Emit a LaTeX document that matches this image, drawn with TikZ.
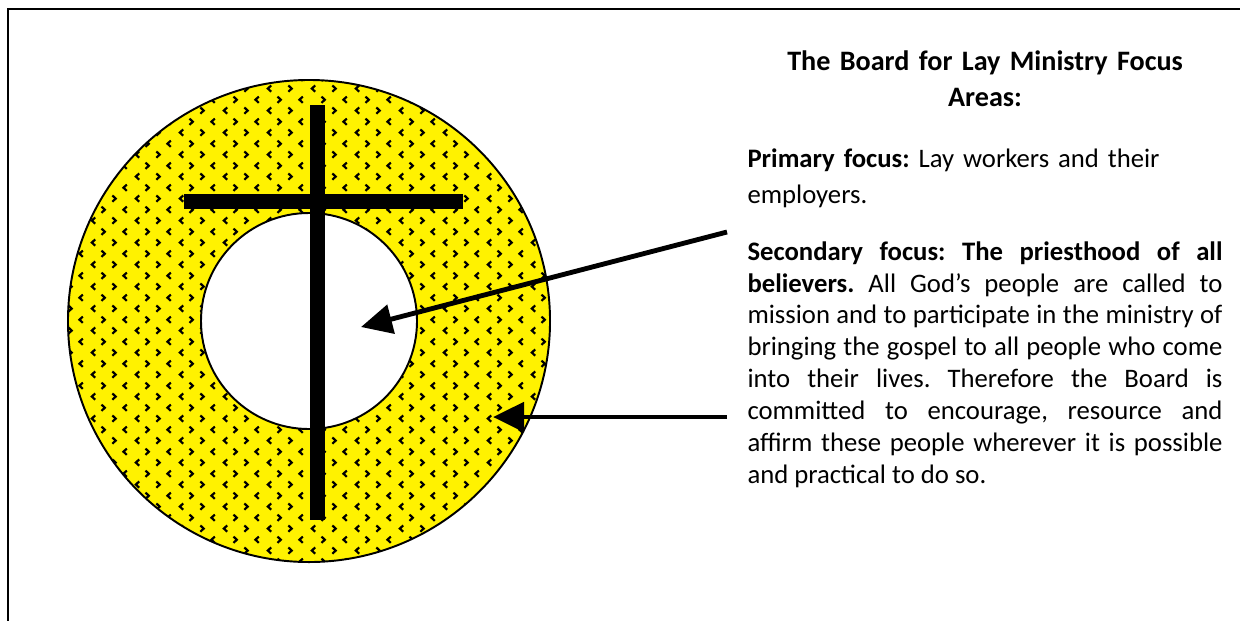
\documentclass[tikz,border=0pt]{standalone}
\usepackage{fontspec}
\setmainfont{Carlito}
\usetikzlibrary{arrows.meta,patterns}

% small chevrons, staggered, for the yellow ring
\pgfdeclarepatternformonly{divots}{\pgfqpoint{0pt}{0pt}}{\pgfqpoint{18pt}{9pt}}{\pgfqpoint{18pt}{9pt}}{
  \pgfsetlinewidth{0.9pt}
  \pgfsetmiterjoin
  \pgfpathmoveto{\pgfqpoint{3.4pt}{3.55pt}}\pgfpathlineto{\pgfqpoint{2.0pt}{2.25pt}}\pgfpathlineto{\pgfqpoint{3.4pt}{0.95pt}}
  \pgfpathmoveto{\pgfqpoint{10.5pt}{3.55pt}}\pgfpathlineto{\pgfqpoint{11.9pt}{2.25pt}}\pgfpathlineto{\pgfqpoint{10.5pt}{0.95pt}}
  \pgfpathmoveto{\pgfqpoint{6.0pt}{8.05pt}}\pgfpathlineto{\pgfqpoint{7.4pt}{6.75pt}}\pgfpathlineto{\pgfqpoint{6.0pt}{5.45pt}}
  \pgfpathmoveto{\pgfqpoint{16.5pt}{8.05pt}}\pgfpathlineto{\pgfqpoint{15.1pt}{6.75pt}}\pgfpathlineto{\pgfqpoint{16.5pt}{5.45pt}}
  \pgfusepath{stroke}
}

\begin{document}
\frenchspacing
\begin{tikzpicture}[x=0.412pt,y=-0.412pt,
  ring/.style={draw=black,line width=0.8pt},
  pointer/.style={line width=2pt,-{Triangle[length=12.8pt,width=12pt]}},
  body/.style={anchor=base west,inner sep=0pt,text width=195.7pt,font={\fontsize{11}{13.18}\selectfont}}]
\useasboundingbox (0,0) rectangle (1240,621);

% frame
\draw[line width=0.6pt] (1240,9) -- (8,9) -- (8,621);

% ring
\path[ring,fill=yellow,postaction={pattern=divots}] (309,321) circle (99.3pt);
\path[ring,fill=white] (309,321) circle (44.5pt);

% cross
\fill (309.5,105) rectangle (324.5,520);
\fill (184,193.5) rectangle (463,209);

% text
\node (title) [anchor=base,inner sep=0pt,text width=195.7pt,align=center,
  font={\bfseries\fontsize{11.6}{15.24}\selectfont}] at (985,70)
  {The Board for Lay Ministry Focus\\Areas:};
\node (primary) [body,align=left,font={\fontsize{11}{15.24}\selectfont}] at (747,167)
  {\textbf{Primary focus:} Lay workers and their\\employers.};
\node (secondary) [body,align=justify] at (747,260)
  {\textbf{Secondary focus: The priesthood of all\linebreak believers.}
  All God’s people are called to\linebreak mission and to participate in the ministry of\linebreak
  bringing the gospel to all people who come\linebreak into their lives. Therefore the Board is\linebreak
  committed to encourage, resource and\linebreak affirm these people wherever it is possible\linebreak
  and practical to do so.};

% arrows
\coordinate (tail1) at (727,232);
\coordinate (tip1) at (361,327);
\coordinate (tail2) at (727,417);
\coordinate (tip2) at (493,417);
\draw[pointer] (tail1) -- (tip1);
\draw[pointer] (tail2) -- (tip2);
\end{tikzpicture}
\end{document}
